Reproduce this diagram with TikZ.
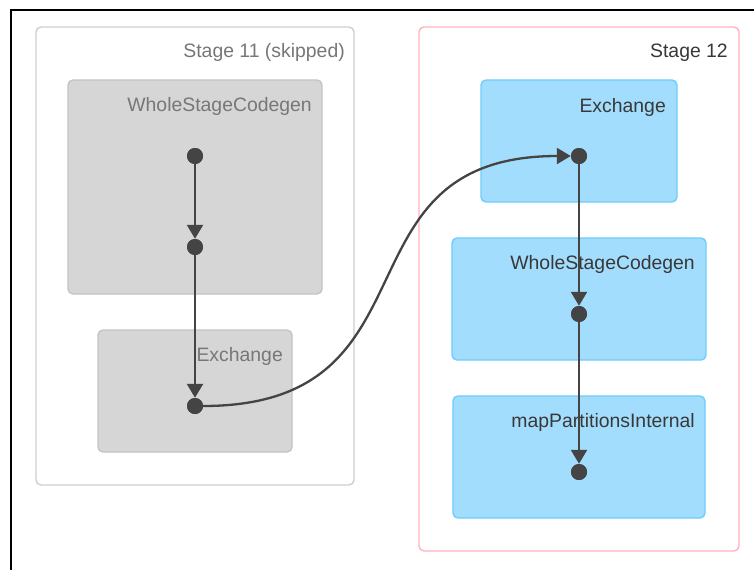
\documentclass[tikz,border=0pt]{standalone}
\usepackage{fontspec}
\setmainfont{Liberation Sans}
\usetikzlibrary{arrows.meta}

\definecolor{edgegray}{HTML}{444444}
\definecolor{skipline}{HTML}{CFCFCF}
\definecolor{skipfill}{HTML}{D6D6D6}
\definecolor{skipedge}{HTML}{C4C4C4}
\definecolor{skiptext}{HTML}{777777}
\definecolor{stagepink}{HTML}{FFB3C0}
\definecolor{opfill}{HTML}{A3DDFD}
\definecolor{opedge}{HTML}{70CCFA}
\definecolor{optext}{HTML}{383838}

\tikzset{
  cluster/.style={rectangle, rounded corners=5pt, line width=1.4pt, inner sep=0pt},
  stagebox/.style={cluster, fill=white},
  skippedstage/.style={stagebox, draw=skipline},
  activestage/.style={stagebox, draw=stagepink},
  skippedop/.style={cluster, fill=skipfill, draw=skipedge},
  activeop/.style={cluster, fill=opfill, draw=opedge},
  lbl/.style={anchor=base east, inner sep=0pt, font=\fontsize{19.4}{23}\selectfont},
  skiplbl/.style={lbl, text=skiptext},
  oplbl/.style={lbl, text=optext},
  dot/.style={circle, fill=edgegray, inner sep=0pt, minimum size=16pt},
  flow/.style={draw=edgegray, line width=2.3pt,
    -{Triangle[length=14pt,width=16pt]}},
}

\begin{document}
\begin{tikzpicture}[x=1pt, y=-1pt]
  \useasboundingbox (0,0) rectangle (754,570);

  % outer frame (top and left edges)
  \draw[line width=2.5pt, black] (754,10) -- (11,10) -- (11,570);

  % Stage 11 (skipped)
  \node[skippedstage, minimum width=318pt, minimum height=458pt] (s11) at (195,256) {};
  \node[skiplbl] (s11lbl) at (345,57) {Stage 11 (skipped)};
  \node[skippedop, minimum width=254pt, minimum height=214pt] (g1) at (195,187) {};
  \node[skiplbl] (g1lbl) at (312,111) {WholeStageCodegen};
  \node[skippedop, minimum width=194pt, minimum height=122pt] (g2) at (195,391) {};
  \node[skiplbl] (g2lbl) at (283,361) {Exchange};

  % Stage 12
  \node[activestage, minimum width=320pt, minimum height=524pt] (s12) at (579,289) {};
  \node[oplbl] (s12lbl) at (728,57) {Stage 12};
  \node[activeop, minimum width=196pt, minimum height=122pt] (b1) at (579,141) {};
  \node[oplbl] (b1lbl) at (666,112) {Exchange};
  \node[activeop, minimum width=254pt, minimum height=122pt] (b2) at (579,299) {};
  \node[oplbl] (b2lbl) at (695,269) {WholeStageCodegen};
  \node[activeop, minimum width=252pt, minimum height=122pt] (b3) at (579,457) {};
  \node[oplbl] (b3lbl) at (695,427) {mapPartitionsInternal};

  % operator points
  \node[dot] (d1) at (195,156) {};
  \node[dot] (d2) at (195,247) {};
  \node[dot] (d3) at (195,406) {};
  \node[dot] (e1) at (579,156) {};
  \node[dot] (e2) at (579,314) {};
  \node[dot] (e3) at (579,472) {};

  % data flow
  \draw[flow] (d1) -- (d2);
  \draw[flow] (d2) -- (d3);
  \draw[flow] (d3) .. controls +(250,0) and +(-250,0) .. (e1);
  \draw[flow] (e1) -- (e2);
  \draw[flow] (e2) -- (e3);

  % redraw points above the connectors
  \foreach \p in {d1,d2,d3,e1,e2,e3}
    \fill[edgegray] (\p) circle (8pt);
\end{tikzpicture}
\end{document}
